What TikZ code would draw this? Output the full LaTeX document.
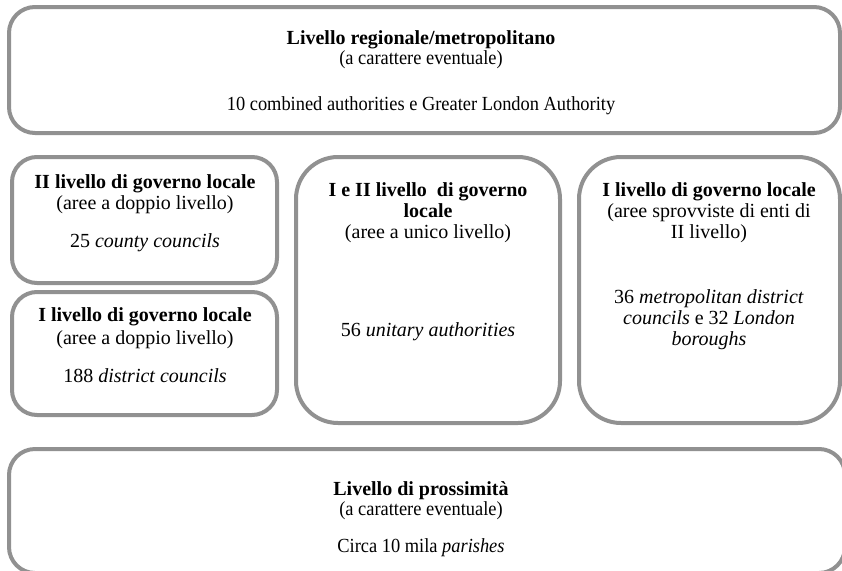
\documentclass[tikz,border=0pt]{standalone}
\usepackage{fontspec}
\setmainfont{Liberation Serif}
\newfontfamily\condfont[FakeStretch=0.92]{Liberation Serif}
\begin{document}
\begin{tikzpicture}[x=1pt,y=-1pt,
  box/.style={draw={rgb,255:red,145;green,145;blue,145}, line width=4pt, inner sep=0pt, outer sep=0pt, fill=white},
  lbl/.style={anchor=base, inner sep=0pt, font=\fontsize{20}{21}\selectfont},
  clbl/.style={anchor=base, inner sep=0pt, font=\fontsize{20}{21}\selectfont\condfont}]
\clip (0,0) rectangle (842,570);
\fill[white] (0,0) rectangle (842,570);
% boxes
\node[box, rounded corners=26pt, minimum width=831pt, minimum height=126pt] (top) at (424.5,70) {};
\node[box, rounded corners=25pt, minimum width=265pt, minimum height=126pt] (tl) at (144.5,220) {};
\node[box, rounded corners=25pt, minimum width=265pt, minimum height=123pt] (bl) at (144.5,353.5) {};
\node[box, rounded corners=42pt, minimum width=264pt, minimum height=266pt] (mid) at (428,290) {};
\node[box, rounded corners=42pt, minimum width=261pt, minimum height=266pt] (right) at (709.5,290) {};
\node[box, rounded corners=26pt, minimum width=836pt, minimum height=124pt] (bot) at (427,511) {};
% top text
\node[lbl] (t1) at (421,44) {\textbf{Livello regionale/metropolitano}};
\node[clbl] (t2) at (421,64) {(a carattere eventuale)};
\node[clbl] (t3) at (421,110) {10 combined authorities e Greater London Authority};
% top-left
\node[lbl] (a1) at (145,188) {\textbf{II livello di governo locale}};
\node[lbl] (a2) at (145,209) {(aree a doppio livello)};
\node[lbl] (a3) at (145,247) {25 \textit{county councils}};
% bottom-left
\node[lbl] (b1) at (145,321) {\textbf{I livello di governo locale}};
\node[lbl] (b2) at (145,344) {(aree a doppio livello)};
\node[lbl] (b3) at (145,382) {188 \textit{district councils}};
% middle
\node[lbl] (m1) at (428,196) {\textbf{I e II livello\ \ di governo}};
\node[lbl] (m2) at (428,217) {\textbf{locale}};
\node[lbl] (m3) at (428,238) {(aree a unico livello)};
\node[lbl] (m4) at (428,336) {56 \textit{unitary authorities}};
% right
\node[lbl] (r1) at (709,196) {\textbf{I livello di governo locale}};
\node[lbl] (r2) at (709,217) {(aree sprovviste di enti di};
\node[lbl] (r3) at (709,238) {II livello)};
\node[lbl] (r4) at (709,303) {36 \textit{metropolitan district}};
\node[lbl] (r5) at (709,324) {\textit{councils} e 32 \textit{London}};
\node[lbl] (r6) at (709,345) {\textit{boroughs}};
% bottom
\node[lbl] (p1) at (421,495) {\textbf{Livello di prossimità}};
\node[clbl] (p2) at (421,515) {(a carattere eventuale)};
\node[clbl] (p3) at (421,552) {Circa 10 mila \textit{parishes}};
\end{tikzpicture}
\end{document}
